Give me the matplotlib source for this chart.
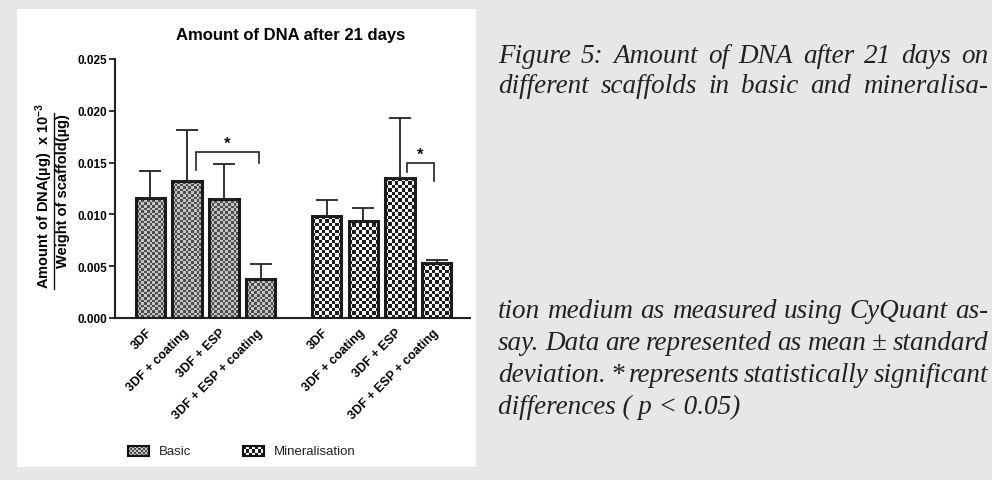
import numpy as np
import matplotlib
matplotlib.use("Agg")
import matplotlib.pyplot as plt
from matplotlib.colors import ListedColormap
from matplotlib.patches import Rectangle
from matplotlib.lines import Line2D

# Data
categories = ["3DF", "3DF + coating", "3DF + ESP", "3DF + ESP + coating"]
basic_mean = [0.0116, 0.0132, 0.0115, 0.0038]
basic_sd = [0.0026, 0.0049, 0.0034, 0.0014]
mineral_mean = [0.0098, 0.0094, 0.0135, 0.0053]
mineral_sd = [0.0016, 0.0012, 0.0058, 0.0003]
yticks = [0.000, 0.005, 0.010, 0.015, 0.020, 0.025]
# significance brackets: x left, x right, top, left leg end, right leg end
brackets = [(1.24, 2.96, 0.0160, 0.0143, 0.0150),
            (6.99, 7.72, 0.0150, 0.0141, 0.0132)]

caption_top = ["Figure 5: Amount of DNA after 21 days on",
               "different scaffolds in basic and mineralisa-"]
caption_bottom = ["tion medium as measured using CyQuant as-",
                  "say. Data are represented as mean \u00b1 standard",
                  "deviation. * represents statistically significant",
                  "differences ( p < 0.05)"]

W, H = 992, 481
BG = "#e6e7e7"

plt.rcParams["font.family"] = "Liberation Sans"
plt.rcParams["mathtext.fontset"] = "custom"
plt.rcParams["mathtext.rm"] = "Liberation Sans:bold"
plt.rcParams["mathtext.it"] = "Liberation Sans:bold"

fig = plt.figure(figsize=(W / 100, H / 100), dpi=100, facecolor=BG)


def fx(px):
    return px / W


def fy(py):
    return 1 - py / H


# white panel behind the chart
fig.add_artist(Rectangle((fx(17), fy(468)), fx(476) - fx(17), fy(10) - fy(468),
                         transform=fig.transFigure, facecolor="white",
                         edgecolor="none", zorder=0))

ax = fig.add_axes([fx(115), fy(319), fx(470) - fx(115), fy(60) - fy(319)])
ax.set_facecolor("none")

x_basic = np.arange(4)
x_mineral = np.arange(4) + 4.8
xlim = (-0.967, 8.71)
ylim = (0, 0.025)
ax.set_xlim(*xlim)
ax.set_ylim(*ylim)

bars_b = ax.bar(x_basic, basic_mean, width=0.8, facecolor="none",
                edgecolor="#1a1a1a", linewidth=2.2, zorder=3)
bars_m = ax.bar(x_mineral, mineral_mean, width=0.8, facecolor="none",
                edgecolor="#1a1a1a", linewidth=2.2, zorder=3)

cmap_b = ListedColormap(["#4d4d4d", "#c4c4c4"])
cmap_m = ListedColormap(["#1c1c1c", "#f7f7f7"])


def fill_checker(bar, cmap, cell):
    bb = bar.get_bbox()
    p = ax.transData.transform([[bb.x0, bb.y0], [bb.x1, bb.y1]])
    nx = max(1, int(round(abs(p[1, 0] - p[0, 0]) / cell)))
    ny = max(1, int(round(abs(p[1, 1] - p[0, 1]) / cell)))
    arr = np.add.outer(np.arange(ny), np.arange(nx)) % 2
    im = ax.imshow(arr, cmap=cmap, vmin=0, vmax=1, origin="lower",
                   extent=(bb.x0, bb.x1, bb.y0, bb.y1), aspect="auto",
                   interpolation="nearest", zorder=2)
    im.set_clip_path(bar)


for b in bars_b:
    fill_checker(b, cmap_b, 2.6)
for b in bars_m:
    fill_checker(b, cmap_m, 3.4)

ax.set_xlim(*xlim)
ax.set_ylim(*ylim)

ax.errorbar(x_basic, basic_mean, yerr=[np.zeros(4), basic_sd], fmt="none",
            ecolor="#222222", elinewidth=1.3, capsize=8, capthick=1.3, zorder=4)
ax.errorbar(x_mineral, mineral_mean, yerr=[np.zeros(4), mineral_sd], fmt="none",
            ecolor="#222222", elinewidth=1.3, capsize=8, capthick=1.3, zorder=4)

for xa, xb, top, yl, yr in brackets:
    ax.plot([xa, xa, xb, xb], [yl, top, top, yr], color="#222222", lw=1.2,
            solid_joinstyle="miter", zorder=4)
    ax.text((xa + xb) / 2, top + 0.0001, "*", ha="center", va="bottom",
            fontsize=12, fontweight="bold", color="#111111")

# axes styling
for s in ["top", "right"]:
    ax.spines[s].set_visible(False)
for s in ["left", "bottom"]:
    ax.spines[s].set_linewidth(1.5)
    ax.spines[s].set_color("#222222")

ax.set_yticks(yticks)
ax.set_yticklabels([f"{v:.3f}" for v in yticks], fontsize=8.5, fontweight="bold")
ax.tick_params(axis="y", direction="out", length=4, width=1.3, color="#222222", pad=1.5)
ax.set_xticks(list(x_basic) + list(x_mineral))
ax.set_xticklabels(categories + categories, rotation=45, ha="right",
                   rotation_mode="anchor", fontsize=9, fontweight="bold", va="center")
ax.tick_params(axis="x", length=0, pad=9)

# title
fig.text(fx(291), fy(40), "Amount of DNA after 21 days", ha="center",
         va="baseline", fontsize=12, fontweight="bold")

# y label as a fraction
fig.text(fx(44), fy(196), "Amount of DNA(\u00b5g)  x 10$^{-3}$", rotation=90,
         ha="center", va="center", fontsize=10.5, fontweight="bold")
fig.text(fx(63), fy(191), "Weight of scaffold(\u00b5g)", rotation=90,
         ha="center", va="center", fontsize=10.5, fontweight="bold")
fig.add_artist(Line2D([fx(53.5), fx(53.5)], [fy(290), fy(114)],
                      transform=fig.transFigure, color="#111111", lw=1.0))

# legend (manual swatches)
for px0, cmap, cell, label, tx in [(128, cmap_b, 2.0, "Basic", 159),
                                   (243, cmap_m, 3.0, "Mineralisation", 274)]:
    sax = fig.add_axes([fx(px0), fy(457), fx(21), 10 / H])
    arr = np.add.outer(np.arange(int(10 / cell)), np.arange(int(21 / cell))) % 2
    sax.imshow(arr, cmap=cmap, vmin=0, vmax=1, aspect="auto", interpolation="nearest")
    sax.set_xticks([])
    sax.set_yticks([])
    for s in sax.spines.values():
        s.set_linewidth(1.5)
        s.set_color("#111111")
    fig.text(fx(tx), fy(452), label, ha="left", va="center", fontsize=9.5,
             color="#222222")

# caption with justified lines
renderer = fig.canvas.get_renderer()
cap_font = dict(fontsize=19.5, fontstyle="italic", family="Liberation Serif",
                color="#222222")
X0, X1 = 498, 988


def draw_line(text, baseline, justify=True):
    words = text.split(" ")
    if not justify:
        fig.text(fx(X0), fy(baseline), text, ha="left", va="baseline", **cap_font)
        return
    objs = [fig.text(0, fy(baseline), w_, ha="left", va="baseline", **cap_font)
            for w_ in words]
    widths = [o.get_window_extent(renderer).width for o in objs]
    gap = (X1 - X0 - sum(widths)) / (len(words) - 1)
    x = X0
    for o, wd in zip(objs, widths):
        o.set_x(fx(x))
        x += wd + gap


for line, yb in zip(caption_top, [63, 93]):
    draw_line(line, yb)
for i, (line, yb) in enumerate(zip(caption_bottom, [318, 350, 382, 414])):
    draw_line(line, yb, justify=(i < len(caption_bottom) - 1))

fig.savefig("out.png", dpi=100, facecolor=BG)
